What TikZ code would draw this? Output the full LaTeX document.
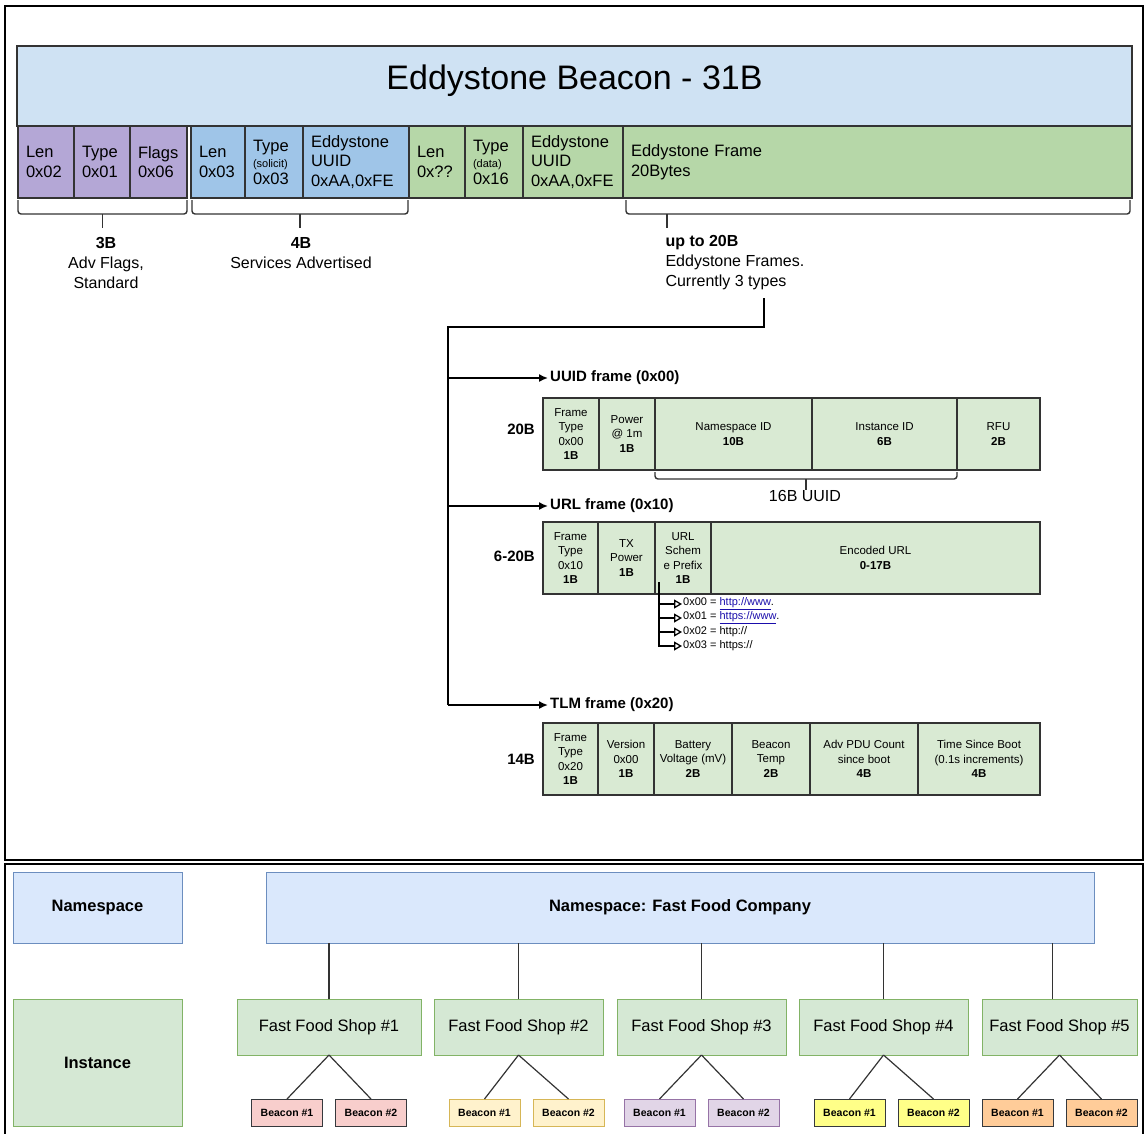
\documentclass[tikz,border=0pt]{standalone}
\usepackage{fontspec}
\setmainfont{Liberation Sans}
\usepackage{xcolor}
\usetikzlibrary{positioning, arrows.meta, calc}

\definecolor{titleblue}{HTML}{CFE2F3}
\definecolor{advpurple}{HTML}{B4A7D6}
\definecolor{svcblue}{HTML}{9FC5E8}
\definecolor{eddygreen}{HTML}{B6D7A8}
\definecolor{framegreen}{HTML}{D9EAD3}
\definecolor{cellline}{HTML}{333333}
\definecolor{linkblue}{HTML}{1A0DAB}
\definecolor{nsfill}{HTML}{DAE8FC}
\definecolor{nsline}{HTML}{6C8EBF}
\definecolor{instfill}{HTML}{D5E8D4}
\definecolor{instline}{HTML}{82B366}
\definecolor{treeline}{HTML}{333333}
\definecolor{bcnpink}{HTML}{F8CECC}
\definecolor{bcnyellow}{HTML}{FFF2CC}
\definecolor{bcnyellowline}{HTML}{D6B656}
\definecolor{bcnlilac}{HTML}{E1D5E7}
\definecolor{bcnlilacline}{HTML}{9673A6}
\definecolor{bcnlemon}{HTML}{FFFF88}
\definecolor{bcnorange}{HTML}{FFCC99}
\definecolor{bcndark}{HTML}{36393D}

\begin{document}
\begin{tikzpicture}[x=1pt, y=-1pt,
    field/.style={draw=cellline, line width=1.5pt, anchor=north west, minimum height=72pt, inner xsep=8pt, inner ysep=0pt, outer sep=0pt, align=left, font=\fontsize{16.5}{19.5}\selectfont},
    fcell/.style={draw=cellline, line width=1.2pt, fill=framegreen, anchor=north west, minimum height=72pt, inner sep=0pt, outer sep=0pt, align=center, font=\fontsize{11.5}{14.3}\selectfont},
    blbl/.style={align=center, font=\fontsize{16}{20}\selectfont},
    flbl/.style={font=\bfseries\fontsize{15}{18}\selectfont, inner sep=2pt},
    brk/.style={draw=cellline, line width=1.4pt, rounded corners=3pt},
    conn/.style={draw=black, line width=1.6pt},
    arr/.style={conn, -{Latex[length=9pt, width=8pt]}},
    subarr/.style={draw=black, line width=1.3pt, -{Triangle[open, length=8pt, width=9pt]}},
    urlitem/.style={anchor=west, inner sep=1pt, font=\fontsize{11}{13}\selectfont},
    nsbox/.style={draw=nsline, fill=nsfill, line width=1pt, anchor=north west, inner sep=0pt, outer sep=0pt, font=\bfseries\fontsize{16.5}{20}\selectfont},
    instbox/.style={nsbox, draw=instline, fill=instfill},
    shopbox/.style={instbox, font=\fontsize{16.5}{20}\selectfont},
    beacon/.style={draw, line width=1pt, minimum width=71pt, minimum height=27pt, inner sep=0pt, outer sep=0pt, font=\bfseries\fontsize{10.5}{12}\selectfont},
    tree/.style={draw=treeline, line width=1.2pt},
    outerline/.style={draw=black, line width=2.5pt}
]
\useasboundingbox (0,0) rectangle (1146,1133);

% outer frames, upper part and lower part
\draw[outerline] (5,6) rectangle (1143,860);
\draw[outerline] (5,1136) -- (5,864) -- (1143,864) -- (1143,1136);

% packet title
\node[draw=cellline, line width=1.5pt, fill=titleblue, anchor=north west, minimum width=1115pt, minimum height=80pt, outer sep=0pt] (title) at (17,46) {};
\node[font=\fontsize{34}{40}\selectfont] (titletext) at ($(title.north)+(0,35)$) {Eddystone Beacon - 31B};

% advertising flags
\node[field, fill=advpurple, text width=40pt] (len1) at (18,126) {Len\\0x02};
\node[field, fill=advpurple, text width=40pt, right=0pt of len1] (type1) {Type\\0x01};
\node[field, fill=advpurple, text width=41pt, right=0pt of type1] (flags) {Flags\\0x06};
% services advertised
\node[field, fill=svcblue, text width=38pt, right=4pt of flags] (len2) {Len\\0x03};
\node[field, fill=svcblue, text width=42pt, right=0pt of len2] (type2) {Type\\[-3pt]{\fontsize{11}{13}\selectfont (solicit)}\\[-3pt]0x03};
\node[field, fill=svcblue, text width=90pt, right=0pt of type2] (uuid1) {Eddystone\\UUID\\0xAA,0xFE};
% eddystone service data
\node[field, fill=eddygreen, text width=40pt, right=0pt of uuid1] (len3) {Len\\0x??};
\node[field, fill=eddygreen, text width=42pt, right=0pt of len3] (type3) {Type\\[-3pt]{\fontsize{11}{13}\selectfont (data)}\\[-3pt]0x16};
\node[field, fill=eddygreen, text width=84pt, right=0pt of type3] (uuid2) {Eddystone\\UUID\\0xAA,0xFE};
\node[field, fill=eddygreen, text width=493pt, right=0pt of uuid2] (ef) {Eddystone Frame\\20Bytes};

% brackets under the fields
\draw[brk] ($(len1.south west)+(0,2)$) -- ++(0,14) -| ($(flags.south east)+(0,2)$);
\draw[brk] ($(len1.south west)!.5!(flags.south east)+(0,16)$) -- ++(0,14);
\draw[brk] ($(len2.south west)+(1,2)$) -- ++(0,14) -| ($(uuid1.south east)+(-1,2)$);
\draw[brk] ($(len2.south west)!.5!(uuid1.south east)+(0,16)$) -- ++(0,14);
\draw[brk] ($(ef.south west)+(3,2)$) -- ++(0,14) -| ($(ef.south east)+(-2,2)$);
\draw[brk] ($(ef.south west)+(44,16)$) -- ++(0,14);

\node[blbl] (bl1) at (106,263) {\textbf{3B}\\Adv Flags,\\Standard};
\node[blbl] (bl2) at (301,253) {\textbf{4B}\\Services Advertised};
\node[blbl, align=left, anchor=west] (bl3) at (662,263) {\textbf{up to 20B}\\Eddystone Frames.\\Currently 3 types};

% frame types
\node[flbl, anchor=west] (uuidlbl) at (548,378) {UUID frame (0x00)};
\node[flbl, anchor=west] (urllbl) at (548,506) {URL frame (0x10)};
\node[flbl, anchor=west] (tlmlbl) at (548,705) {TLM frame (0x20)};

\coordinate (trunktop) at (764,298);
\coordinate (split) at (448,327);
\draw[conn] (trunktop) |- (split) -- (split |- tlmlbl.west);
\draw[arr] (split |- uuidlbl.west) -- (uuidlbl.west);
\draw[arr] (split |- urllbl.west) -- (urllbl.west);
\draw[arr] (split |- tlmlbl.west) -- (tlmlbl.west);

% UUID frame
\node[fcell, minimum width=56pt] (ft1) at (543,398) {Frame\\Type\\0x00\\\textbf{1B}};
\node[fcell, minimum width=56pt, right=0pt of ft1] (pw1) {Power\\@ 1m\\\textbf{1B}};
\node[fcell, minimum width=157pt, right=0pt of pw1] (nsid) {Namespace ID\\\textbf{10B}};
\node[fcell, minimum width=145pt, right=0pt of nsid] (iid) {Instance ID\\\textbf{6B}};
\node[fcell, minimum width=83pt, right=0pt of iid] (rfu) {RFU\\\textbf{2B}};
\node[flbl, left=6pt of ft1, yshift=5pt] (uuidsz) {20B};
\draw[brk] ($(nsid.south west)+(0,2)$) -- ++(0,7) -| ($(iid.south east)+(0,2)$);
\draw[brk] ($(nsid.south west)!.5!(iid.south east)+(0,9)$) -- ++(0,11);
\node[font=\fontsize{16}{18}\selectfont] (uuidsum) at (805,496) {16B UUID};

% URL frame
\node[fcell, minimum width=55pt] (ft2) at (543,522) {Frame\\Type\\0x10\\\textbf{1B}};
\node[fcell, minimum width=57pt, right=0pt of ft2] (txp) {TX\\Power\\\textbf{1B}};
\node[fcell, minimum width=56pt, right=0pt of txp] (pfx) {URL\\Schem\\e Prefix\\\textbf{1B}};
\node[fcell, minimum width=329pt, right=0pt of pfx] (eurl) {Encoded URL\\\textbf{0-17B}};
\node[flbl, left=6pt of ft2, yshift=2pt] (urlsz) {6-20B};

\node[urlitem] (p0) at (682,604) {0x00 = {\color{linkblue}\underline{http://www}}.};
\node[urlitem] (p1) at (682,618) {0x01 = {\color{linkblue}\underline{https://www}}.};
\node[urlitem] (p2) at (682,632) {0x02 = http://};
\node[urlitem] (p3) at (682,646) {0x03 = https://};
\coordinate (pfxline) at ($(pfx.south west)+(4,-12)$);
\foreach \k in {0,...,3}
  \draw[subarr] (pfxline) |- (p\k.west);

% TLM frame
\node[fcell, minimum width=55pt] (ft3) at (543,723) {Frame\\Type\\0x20\\\textbf{1B}};
\node[fcell, minimum width=56pt, right=0pt of ft3] (ver) {Version\\0x00\\\textbf{1B}};
\node[fcell, minimum width=78pt, right=0pt of ver] (bat) {Battery\\Voltage (mV)\\\textbf{2B}};
\node[fcell, minimum width=78pt, right=0pt of bat] (tmp) {Beacon\\Temp\\\textbf{2B}};
\node[fcell, minimum width=108pt, right=0pt of tmp] (adv) {Adv PDU Count\\since boot\\\textbf{4B}};
\node[fcell, minimum width=122pt, right=0pt of adv] (tsb) {Time Since Boot\\(0.1s increments)\\\textbf{4B}};
\node[flbl, left=6pt of ft3] (tlmsz) {14B};

% namespace / instance hierarchy
\node[nsbox, minimum width=169pt, minimum height=71pt] (nslbl) at (13,872) {Namespace};
\node[nsbox, minimum width=828pt, minimum height=71pt] (company) at (266,872) {Namespace: Fast Food Company};
\node[instbox, minimum width=169pt, minimum height=127pt] (instlbl) at (13,999) {Instance};

\node[shopbox, minimum width=184pt, minimum height=56pt] (shop1) at (237,999) {Fast Food Shop \#1};
\node[shopbox, minimum width=169pt, minimum height=56pt] (shop2) at (434,999) {Fast Food Shop \#2};
\node[shopbox, minimum width=169pt, minimum height=56pt] (shop3) at (617,999) {Fast Food Shop \#3};
\node[shopbox, minimum width=169pt, minimum height=56pt] (shop4) at (799,999) {Fast Food Shop \#4};
\node[shopbox, minimum width=155pt, minimum height=56pt] (shop5) at (982,999) {Fast Food Shop \#5};

\foreach \s in {1,...,4}
  \draw[tree] (shop\s.north) -- (shop\s.north |- company.south);
\draw[tree] ($(shop5.north)+(-7,0)$) -- ($(shop5.north |- company.south)+(-7,0)$);

% two beacons under each shop
\foreach \s/\off/\bfil/\blin in {1/0/bcnpink/bcndark, 2/8/bcnyellow/bcnyellowline, 3/0/bcnlilac/bcnlilacline, 4/8/bcnlemon/bcndark, 5/0/bcnorange/bcndark} {
  \node[beacon, fill=\bfil, draw=\blin, anchor=north] (bcn\s-1) at ($(shop\s.south)+(-42+\off,44)$) {Beacon \#1};
  \node[beacon, fill=\bfil, draw=\blin, anchor=north] (bcn\s-2) at ($(shop\s.south)+(42+\off,44)$) {Beacon \#2};
  \draw[tree] (shop\s.south) -- (bcn\s-1.north);
  \draw[tree] (shop\s.south) -- (bcn\s-2.north);
}
\end{tikzpicture}
\end{document}
